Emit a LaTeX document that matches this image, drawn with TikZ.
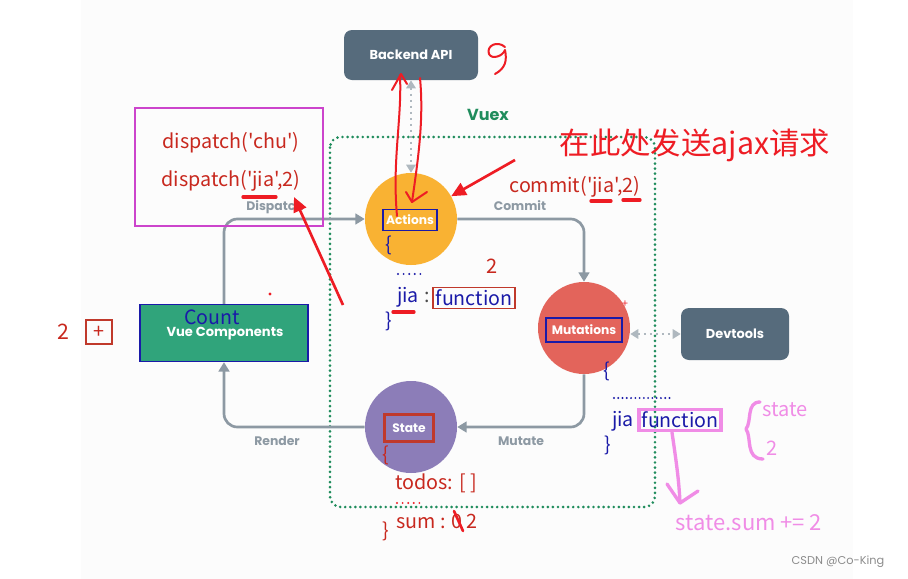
\documentclass[tikz,border=0pt]{standalone}
\usepackage{fontspec}
\newfontfamily\vxfont{Poppins}
\newfontfamily\notefont{Noto Sans CJK SC}
\usetikzlibrary{arrows.meta, positioning}

\definecolor{slate}{HTML}{566B7C}
\definecolor{actorange}{HTML}{F9B233}
\definecolor{mutred}{HTML}{E3645B}
\definecolor{statepurple}{HTML}{8C7DB8}
\definecolor{vuegreen}{HTML}{30A47B}
\definecolor{flowgray}{HTML}{8D99A3}
\definecolor{vuexgreen}{HTML}{1F8C5C}
\definecolor{notered}{HTML}{C8281E}
\definecolor{penred}{HTML}{EE1C24}
\definecolor{boxred}{HTML}{C0392B}
\definecolor{penblue}{HTML}{1A1AA8}
\definecolor{penpink}{HTML}{F08CE6}
\definecolor{penmagenta}{HTML}{CC44CC}
\definecolor{bgtint}{HTML}{FCFCFC}

\begin{document}
\begin{tikzpicture}[x=0.75pt, y=-0.75pt,
    slatebox/.style={rectangle, rounded corners=6pt, fill=slate, text=white, font=\vxfont\bfseries\fontsize{9.7}{11}\selectfont},
    core/.style={circle, minimum size=69pt, inner sep=0pt},
    tag/.style={text=white, font=\vxfont\bfseries\fontsize{9.2}{10}\selectfont, inner sep=0pt},
    flow/.style={draw=flowgray, line width=2pt, rounded corners=10pt, -{Triangle[length=7pt,width=8pt]}},
    flowlbl/.style={text=flowgray, font=\vxfont\bfseries\fontsize{9.3}{11}\selectfont},
    devline/.style={draw=flowgray!70, line width=2pt, dash pattern=on 2pt off 2.5pt, {Triangle[length=6pt,width=7pt]}-{Triangle[length=6pt,width=7pt]}},
    note/.style={text=notered, font=\notefont\fontsize{14.8}{17}\selectfont, inner sep=0pt},
    bluenote/.style={text=penblue, font=\notefont\fontsize{14.7}{17}\selectfont, inner sep=0pt},
    pinknote/.style={text=penpink, font=\notefont\fontsize{15}{17}\selectfont, inner sep=0pt},
    redpen/.style={draw=penred, line width=1.5pt, line cap=round, line join=round},
    pinkpen/.style={draw=penpink, line width=2.5pt, line cap=round, line join=round},
    redarrow/.style={draw=penred, line width=2pt, -{Triangle[length=11pt,width=10pt]}}
]
\useasboundingbox (0,0) rectangle (908,579);
\fill[bgtint] (81,0) rectangle (853,579);

% vuex frame
\draw[vuexgreen, line width=2.2pt, line cap=round, dash pattern=on 0pt off 3.8pt, rounded corners=8pt] (330,137) rectangle (655,507);
\node[text=vuexgreen, font=\vxfont\bfseries\fontsize{12}{14}\selectfont] (vuex) at (488,115) {Vuex};

% main blocks
\node[slatebox, minimum width=100.5pt, minimum height=37.5pt] (backend) at (411,55) {Backend API};
\node[slatebox, minimum width=81pt, minimum height=39pt] (devtools) at (735,334) {Devtools};
\node[rectangle, fill=vuegreen, draw=penblue, line width=1pt, minimum width=126pt, minimum height=42.75pt] (vue) at (224,333) {};
\node[core, fill=actorange] (actions) at (411,219) {};
\node[core, fill=mutred] (mutations) at (584,328) {};
\node[core, fill=statepurple] (state) at (411,427) {};

% data flow
\draw[flow] (vue.north) |- (actions.west);
\draw[flow] (actions.east) -| (mutations.north);
\draw[flow] (mutations.south) |- (state.east);
\draw[flow] (state.west) -| (vue.south);
\draw[devline] (backend.south) -- (actions.north);
\draw[devline] (mutations.east |- devtools.west) -- (devtools.west);

\node[flowlbl] (dispatchlbl) at (275,207) {Dispatch};
\node[flowlbl] (commitlbl) at (520,206) {Commit};
\node[flowlbl] (mutatelbl) at (521,441) {Mutate};
\node[flowlbl] (renderlbl) at (277,441) {Render};

% labels inside the blocks
\node[tag, draw=penblue, line width=1pt, minimum width=40.5pt, minimum height=15.75pt] (actlbl) at (410,220) {Actions};
\node[tag, draw=penblue, line width=1pt, minimum width=57pt, minimum height=18pt] (mutlbl) at (584,330) {Mutations};
\node[tag, draw=boxred, line width=2.2pt, minimum width=37pt, minimum height=20pt] (statelbl) at (409,428) {State};
\node[tag, font=\vxfont\bfseries\fontsize{9.8}{11}\selectfont] (vuelbl) at (225,334) {Vue Components};
\node[bluenote] (count) at (212,317) {Count};

% counter
\node[note, font=\notefont\fontsize{16}{18}\selectfont] (two) at (63,332) {2};
\node[note, draw=boxred, line width=1pt, minimum width=19.5pt, minimum height=18pt] (plusbtn) at (99,332) {+};
\fill[penred] (270,294) circle (1.3pt);

% dispatch notes
\node[draw=penmagenta, line width=1.5pt, minimum width=141pt, minimum height=88.5pt] (dispbox) at (229,167) {};
\node[note] (chucall) at (231,143) {dispatch('chu')};
\node[note] (jiacall) at (231,181) {dispatch('jia',2)};
\draw[redpen, line width=2.5pt] (243,197) -- (276,197);

% actions notes
\node[text=penred, font=\notefont\fontsize{22.8}{26}\selectfont, inner sep=0pt] (ajax) at (695,145) {在此处发送ajax请求};
\node[note] (commitcall) at (575,187) {commit('jia',2)};
\draw[redpen, line width=2.5pt] (591,201) -- (611,201);
\draw[redpen, line width=2.5pt] (623,200) -- (640,200);
\node[bluenote] (actopen) at (389,245) {\{};
\draw[penblue, line width=1.6pt, line cap=round, dash pattern=on 0pt off 4.2pt] (398,274) -- (424,274);
\node[bluenote] (actjia) at (408,297) {jia};
\node[bluenote, text=black!70] (actcolon) at (427,297) {:};
\node[bluenote, draw=boxred, line width=1pt, inner sep=2pt] (actfn) at (474,298) {function};
\node[bluenote] (actclose) at (389,321) {\}};
\node[note, font=\notefont\fontsize{15}{17}\selectfont] (acttwo) at (492,266) {2};
\draw[redpen, line width=2.5pt] (393,312) -- (414,312);

% mutations notes
\node[text=penred, font=\notefont\fontsize{8}{9}\selectfont, inner sep=0pt] (mutplus) at (625,304) {+};
\node[bluenote] (mutopen) at (607,371) {\{};
\draw[penblue, line width=1.6pt, line cap=round, dash pattern=on 0pt off 3.2pt] (614,398) -- (670,398);
\node[bluenote] (mutjia) at (623,421) {jia};
\node[bluenote, draw=penpink, line width=2.5pt, inner sep=2pt] (mutfn) at (680,420) {function};
\node[bluenote] (mutclose) at (608,445) {\}};

% state notes
\node[note] (stateopen) at (386,455) {\{};
\node[note] (todos) at (436,483) {todos: [ ]};
\draw[penred, line width=1.6pt, line cap=round, dash pattern=on 0pt off 4.2pt] (397,503) -- (420,503);
\node[note] (sumline) at (437,521) {sum : 0 2};
\node[note] (stateclose) at (386,531) {\}};
\draw[redpen, line width=2pt] (454,511) -- (463,531);

% pink notes
\draw[pinkpen] (760,402) .. controls (746,402) and (752,422) .. (746,429) .. controls (752,437) and (745,459) .. (763,459);
\node[pinknote] (pinkstate) at (785,410) {state};
\node[pinknote] (pinktwo) at (772,448) {2};
\node[pinknote, font=\notefont\fontsize{16.5}{18}\selectfont] (pinksum) at (749,523) {state.sum += 2};
\coordinate (pinkend) at (680,503);
\draw[pinkpen] (mutfn.south -| 672,0) .. controls (676,460) and (679,480) .. (pinkend);
\draw[pinkpen] (667,484) -- (pinkend) -- (698,491);

% hand drawn arrows
\coordinate (penA) at (515,160);
\draw[redarrow] (penA) -- (actions);
\coordinate (penB) at (343,305);
\coordinate (penBtip) at (294,197);
\draw[redarrow] (penB) -- (penBtip);
\draw[redpen] (397,216) .. controls (392,160) and (402,120) .. (400,75);
\draw[redpen] (392,90) -- (401,74) -- (407,84);
\draw[redpen] (420,78) .. controls (424,120) and (418,160) .. (412,202);
\draw[redpen] (406,192) -- (412,202) -- (427,192);
\draw[redpen] (505,47) .. controls (497,40) and (486,46) .. (489,54) .. controls (492,60) and (503,56) .. (505,50) .. controls (507,60) and (506,68) .. (495,74);

\node[text=black!45, font=\vxfont\fontsize{8.5}{10}\selectfont] (credit) at (838,562) {CSDN @Co-King};
\end{tikzpicture}
\end{document}
